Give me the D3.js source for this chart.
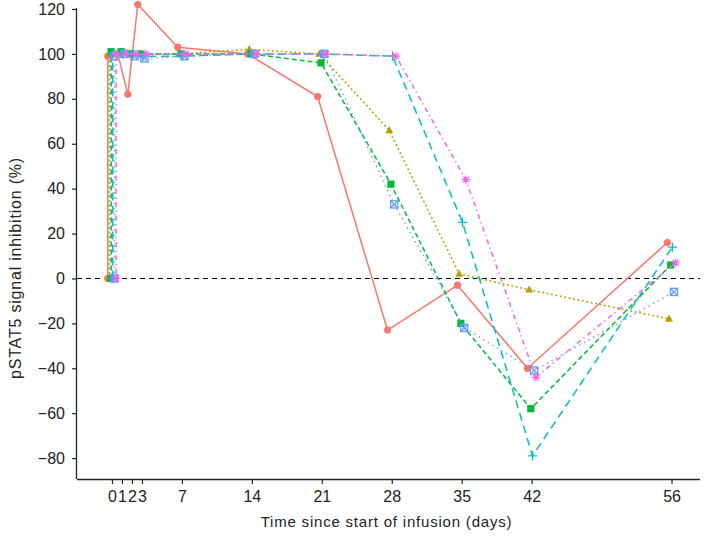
<!DOCTYPE html>
<html>
<head>
<meta charset="utf-8">
<script src="https://cdn.jsdelivr.net/npm/d3@7"></script>
<style>
  body { margin: 0; background: #fff; }
  svg text { font-family: "Liberation Sans", Arial, sans-serif; }
</style>
</head>
<body>
<div class="mainContent"></div>
<script>
const w = 709;
const h = 541;

// sampling days (day 0 appears twice: pre-dose and end of infusion)
const days = [0, 0, 1, 2, 3, 7, 14, 21, 28, 35, 42, 56];
const xTicks = [0, 1, 2, 3, 7, 14, 21, 28, 35, 42, 56];
const yTicks = [-80, -60, -40, -20, 0, 20, 40, 60, 80, 100, 120];

// one array per patient
const patient1 = [0, 99, 100, 82, 122, 103, 100, 81, -23, -3, -40, 16];
const patient2 = [0, 100, 100, 100, 100, 100, 102, 100, 66, 2, -5, -18];
const patient3 = [0, 101, 101, 100, 100, 100, 100, 96, 42, -20, -58, 6];
const patient4 = [0, 100, 100, 100, 99, 99, 100, 100, 99, 25, -79, 14];
const patient5 = [0, 99, 100, 99, 98, 99, 100, 100, 33, -22, -41, -6];
const patient6 = [0, 100, 100, 100, 100, 100, 100, 100, 99, 44, -44, 7];

const series = [
  { values: patient1, color: '#F8766D', dash: null,      shape: 'circle' },
  { values: patient2, color: '#B79F00', dash: '2,2.5',   shape: 'triangle' },
  { values: patient3, color: '#00BA38', dash: '5,3',     shape: 'square' },
  { values: patient4, color: '#00BFC4', dash: '8,5',     shape: 'plus' },
  { values: patient5, color: '#619CFF', dash: '1.3,4',   shape: 'boxx' },
  { values: patient6, color: '#F564E3', dash: '1.3,3.5,5,3.5', shape: 'asterisk' }
];

const padLeft = 77, padRight = 700, padTop = 8, padBottom = 479;

const xScale = d3.scaleLinear().domain([-3.5, 58.85]).range([padLeft, padRight]);
const yScale = d3.scaleLinear().domain([-89.3, 120]).range([padBottom, padTop + 1]);

const svg = d3.select('.mainContent').append('svg')
  .attr('width', w).attr('height', h);

// zero reference line
svg.append('line')
  .attr('x1', padLeft).attr('x2', padRight)
  .attr('y1', yScale(0)).attr('y2', yScale(0))
  .attr('stroke', '#000').attr('stroke-width', 1.1)
  .attr('stroke-dasharray', '5,4');

// position dodge for overlapping patients
const dodge = i => (i - 2.5) / 6;

function drawShape(g, shape, color) {
  const r = 3.6;
  if (shape === 'circle') {
    g.append('circle').attr('r', r).attr('fill', color);
  } else if (shape === 'triangle') {
    g.append('path').attr('d', `M0,${-r * 1.2}L${r * 1.1},${r * 0.8}L${-r * 1.1},${r * 0.8}Z`).attr('fill', color);
  } else if (shape === 'square') {
    g.append('rect').attr('x', -r).attr('y', -r).attr('width', 2 * r).attr('height', 2 * r).attr('fill', color);
  } else if (shape === 'plus') {
    g.append('path').attr('d', `M${-r - 1},0H${r + 1}M0,${-r - 1}V${r + 1}`)
      .attr('stroke', color).attr('stroke-width', 1.3).attr('fill', 'none');
  } else if (shape === 'boxx') {
    g.append('rect').attr('x', -r).attr('y', -r).attr('width', 2 * r).attr('height', 2 * r)
      .attr('fill', 'none').attr('stroke', color).attr('stroke-width', 1.3);
    g.append('path').attr('d', `M${-r},${-r}L${r},${r}M${-r},${r}L${r},${-r}`)
      .attr('stroke', color).attr('stroke-width', 1.2);
  } else if (shape === 'asterisk') {
    const a = r + 0.6, d = a * 0.707;
    g.append('path').attr('d', `M${-a},0H${a}M0,${-a}V${a}M${-d},${-d}L${d},${d}M${-d},${d}L${d},${-d}`)
      .attr('stroke', color).attr('stroke-width', 1.2).attr('fill', 'none');
  }
}

series.forEach((s, i) => {
  const pts = days.map((d, k) => ({ x: d + dodge(i), y: s.values[k] }));
  const line = d3.line().x(d => xScale(d.x)).y(d => yScale(d.y));
  svg.append('path')
    .datum(pts)
    .attr('d', line)
    .attr('fill', 'none')
    .attr('stroke', s.color)
    .attr('stroke-width', 1.5)
    .attr('stroke-dasharray', s.dash);
  svg.selectAll(null)
    .data(pts)
    .enter()
    .append('g')
    .attr('transform', d => `translate(${xScale(d.x)},${yScale(d.y)})`)
    .each(function () { drawShape(d3.select(this), s.shape, s.color); });
});

// axes
const xAxis = d3.axisBottom(xScale).tickValues(xTicks).tickSize(5).tickSizeOuter(0).tickPadding(7);
const yAxis = d3.axisLeft(yScale).tickValues(yTicks).tickSize(5).tickSizeOuter(0).tickPadding(7);

const gx = svg.append('g').attr('transform', `translate(0,${padBottom})`).call(xAxis);
gx.select('.domain').attr('d', `M${padLeft},0.5H${padRight}`);
const gy = svg.append('g').attr('transform', `translate(${padLeft},0)`).call(yAxis);
gy.select('.domain').attr('d', `M-0.5,${padTop}V${padBottom}`);

[gx, gy].forEach(g => {
  g.selectAll('.domain').attr('stroke', '#222').attr('stroke-width', 1.3);
  g.selectAll('.tick line').attr('stroke', '#222').attr('stroke-width', 1.2);
  g.selectAll('.tick text').attr('fill', '#222').style('font-size', '16px');
});

svg.append('text')
  .attr('x', (padLeft + padRight) / 2 - 2).attr('y', 527)
  .attr('text-anchor', 'middle')
  .style('font-size', '15px').style('letter-spacing', '0.8px').attr('fill', '#222')
  .text('Time since start of infusion (days)');

svg.append('text')
  .attr('transform', `translate(21,268) rotate(-90)`)
  .attr('text-anchor', 'middle')
  .style('font-size', '16px').style('letter-spacing', '0.8px').attr('fill', '#222')
  .text('pSTAT5 signal inhibition (%)');
</script>
</body>
</html>
